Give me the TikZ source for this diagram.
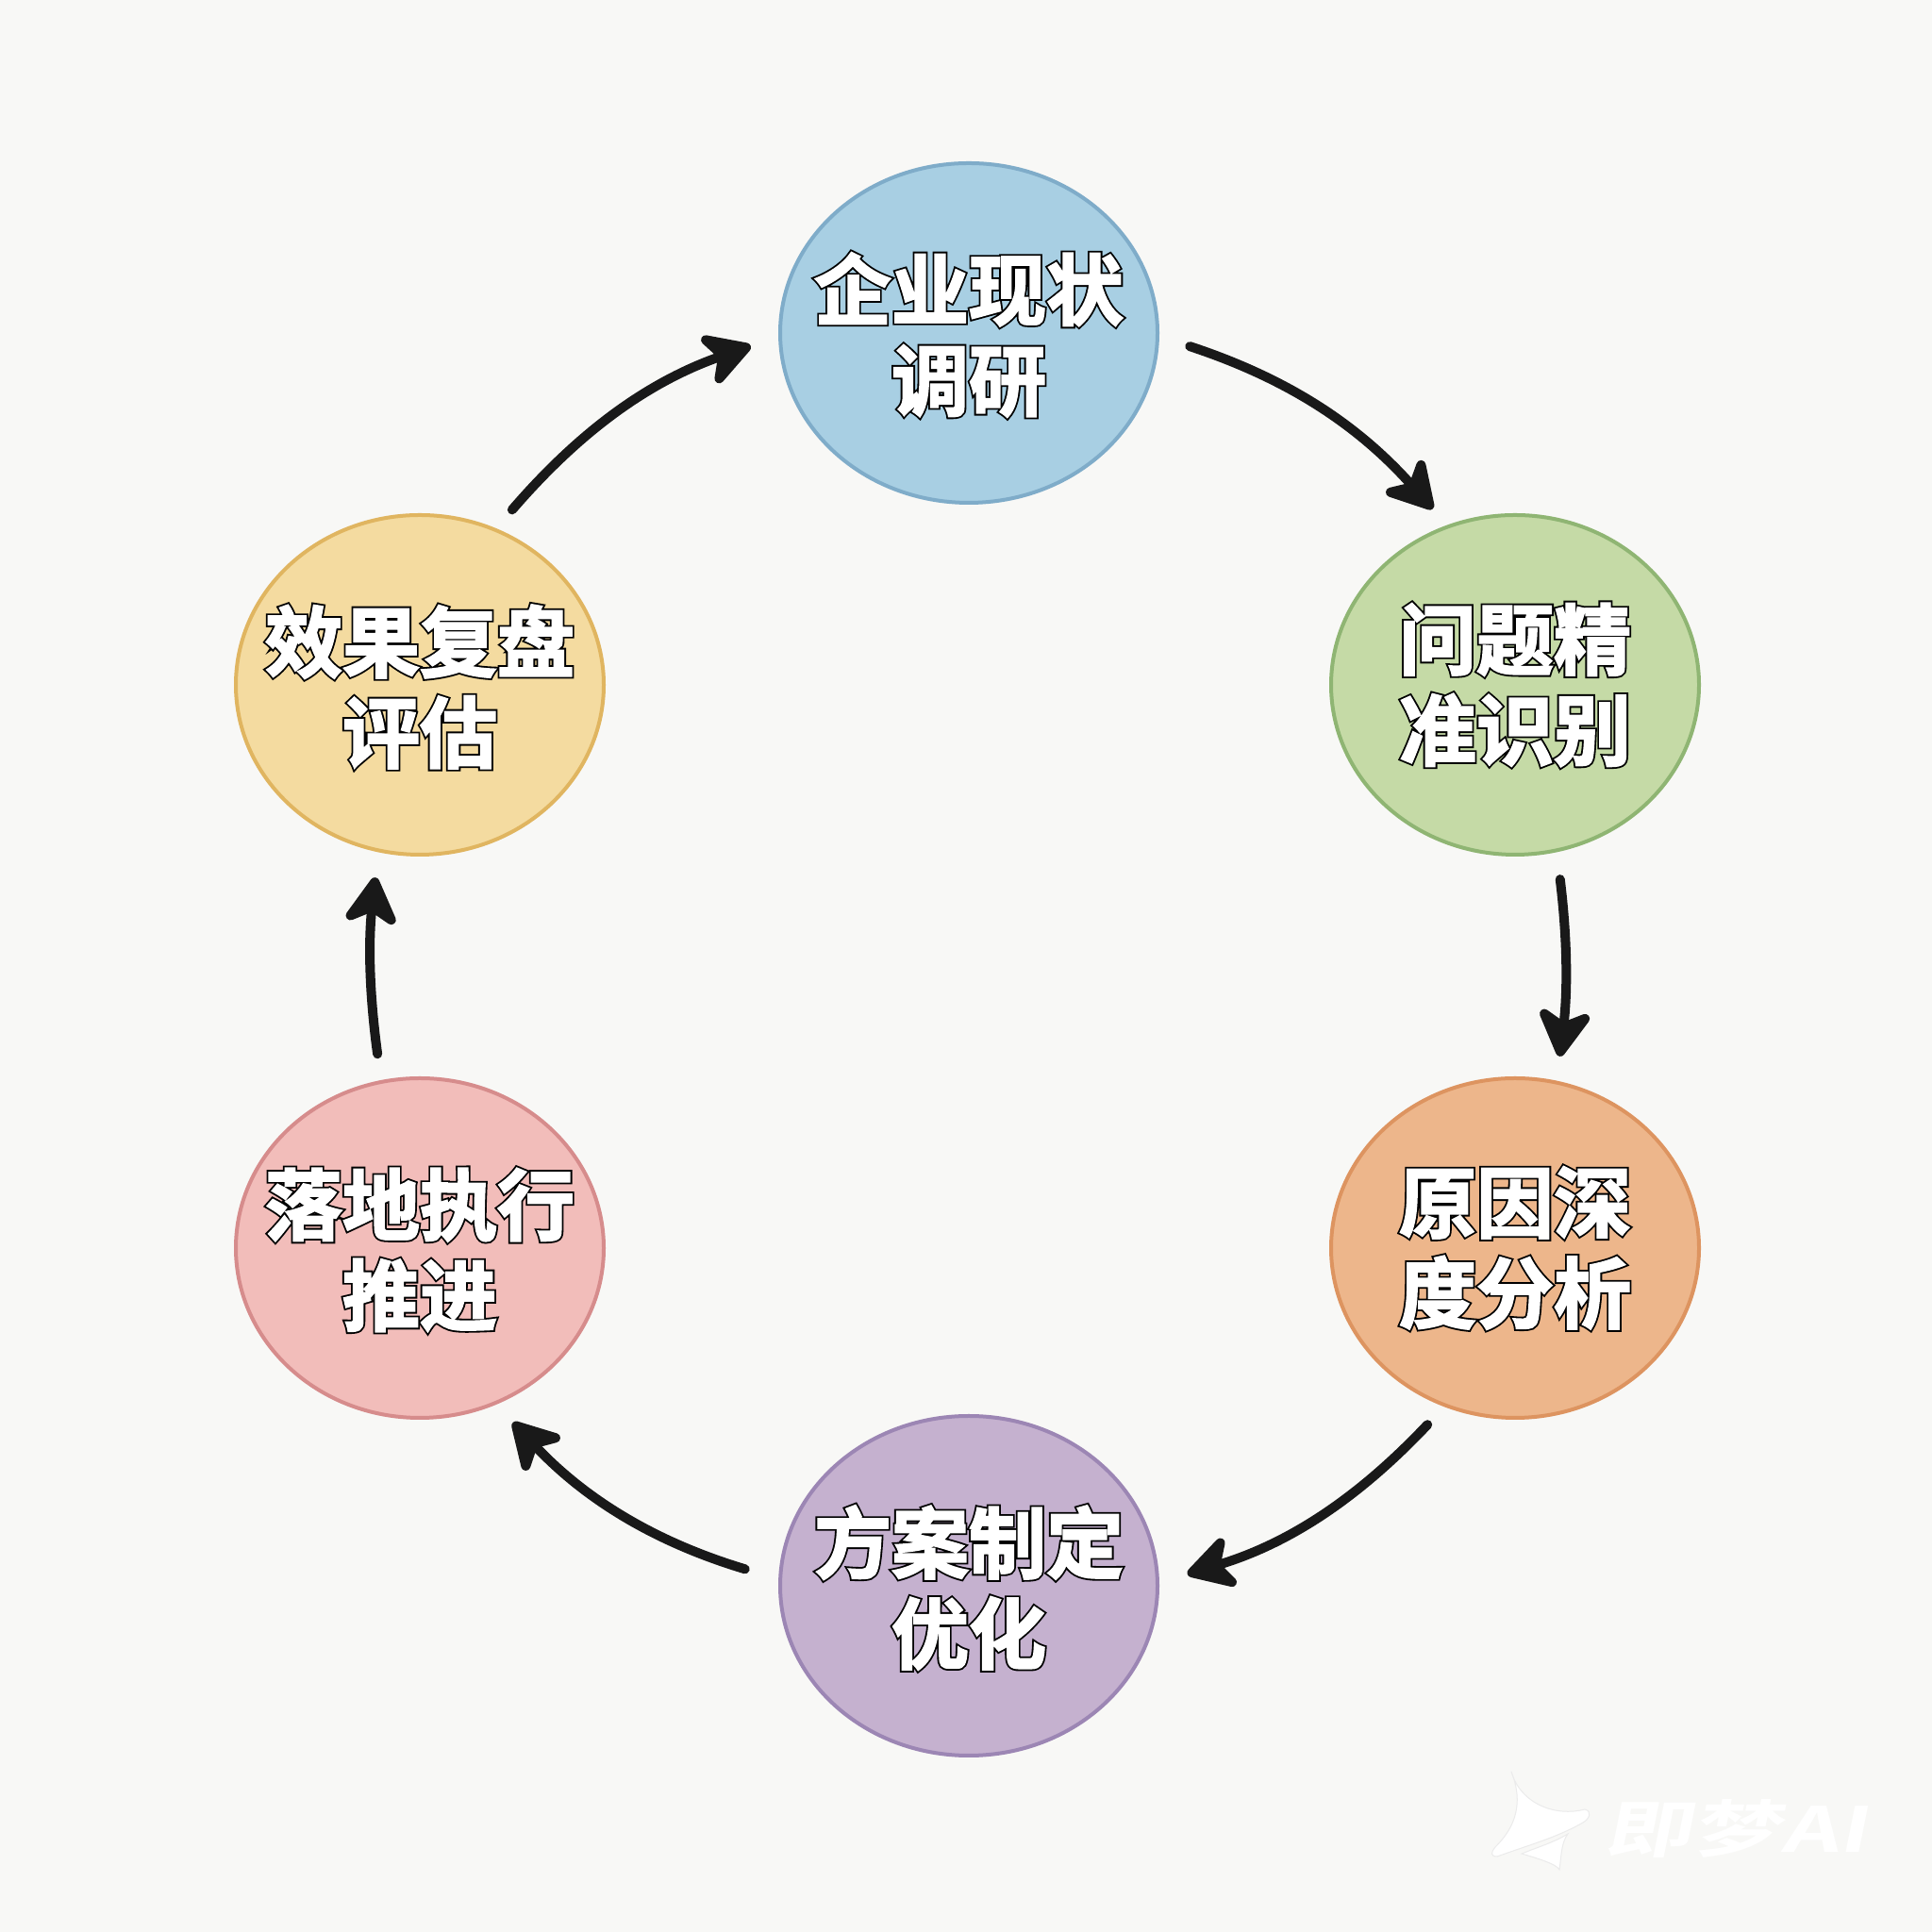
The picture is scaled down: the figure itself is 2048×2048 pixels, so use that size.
\documentclass[tikz,border=0pt]{standalone}
\usepackage{fontspec}
\usetikzlibrary{shapes.geometric,arrows.meta}
\newfontfamily\olfont[UprightFont=* Bold,UprightFeatures={FakeBold=2.5}]{Noto Sans CJK SC}
\newfontfamily\olbackfont[UprightFont=* Bold,UprightFeatures={FakeBold=7}]{Noto Sans CJK SC}
\newfontfamily\wmfont[UprightFont=* Bold]{Noto Sans CJK SC}
\definecolor{bgc}{HTML}{F8F8F6}
\definecolor{blueF}{HTML}{A8CFE3}\definecolor{blueD}{HTML}{7FACC9}
\definecolor{greenF}{HTML}{C5DAA6}\definecolor{greenD}{HTML}{8FB573}
\definecolor{orangeF}{HTML}{EDB68B}\definecolor{orangeD}{HTML}{DD9460}
\definecolor{purpleF}{HTML}{C5B1CF}\definecolor{purpleD}{HTML}{9C86B4}
\definecolor{pinkF}{HTML}{F2BDBA}\definecolor{pinkD}{HTML}{D68C8C}
\definecolor{yellowF}{HTML}{F4DBA0}\definecolor{yellowD}{HTML}{E0B560}
\tikzset{
 x=0.5pt,y=0.5pt,
 blob/.style={ellipse,minimum width=#1,minimum height=180pt,inner sep=0pt,line width=2pt},
 captiontext/.style={inner sep=0pt,align=center,text=white,font=\olfont\fontsize{41}{48}\selectfont},
 captionback/.style={inner sep=0pt,align=center,text=black,font=\olbackfont\fontsize{41}{48}\selectfont},
 flow/.style={line width=5pt,line cap=round,color=black!90,-{Stealth[length=30pt,width=34pt,inset=9pt,round]}},
 wmark/.style={fill=white,draw=black!8,line width=0.5pt},
}
\newcommand{\outlined}[3]{%
  \node[captionback] (#1back) at (#2) {#3};
  \node[captiontext] (#1) at (#2) {#3};}
\begin{document}
\begin{tikzpicture}
\useasboundingbox (0,0) rectangle (2048,2048);
\fill[bgc] (0,0) rectangle (2048,2048);
% circles
\node[blob=200pt,draw=blueD,fill=blueF] (a) at (1027,1695) {};
\node[blob=195pt,draw=greenD,fill=greenF] (b) at (1606,1322) {};
\node[blob=195pt,draw=orangeD,fill=orangeF] (c) at (1606,725) {};
\node[blob=200pt,draw=purpleD,fill=purpleF] (d) at (1027,367) {};
\node[blob=195pt,draw=pinkD,fill=pinkF] (e) at (445,725) {};
\node[blob=195pt,draw=yellowD,fill=yellowF] (f) at (445,1322) {};
% captions
\outlined{ta}{1027,1693}{企业现状\\调研}
\outlined{tb}{1606,1322}{问题精\\准识别}
\outlined{tc}{1606,725}{原因深\\度分析}
\outlined{td}{1027,365}{方案制定\\优化}
\outlined{te}{445,723}{落地执行\\推进}
\outlined{tf}{445,1320}{效果复盘\\评估}
% arrows
\draw[flow,shorten <=17pt,shorten >=11.5pt] (a.-1) to[bend left=15] (b.113);
\draw[flow,shorten <=14.5pt,shorten >=13pt] (b.-76.6) to[bend left=7] (c.76);
\draw[flow,shorten <=13pt,shorten >=15.5pt] (c.-114) to[bend left=15] (d.1);
\draw[flow,shorten <=18.5pt,shorten >=13pt] (d.178) to[bend left=15] (e.-64);
\draw[flow,shorten <=14pt,shorten >=13.5pt] (e.103.5) to[bend left=7] (f.-104.5);
\draw[flow,shorten <=13pt,shorten >=15.5pt] (f.64.5) to[bend left=15] (a.181);
% watermark
\path[wmark] (1602,170) .. controls (1612,135) and (1650,122) .. (1680,130)
  .. controls (1688,128) and (1685,120) .. (1678,116) .. controls (1650,100) and (1620,92) .. (1587,80)
  .. controls (1580,80) and (1580,84) .. (1585,90) .. controls (1600,105) and (1618,130) .. (1602,170) -- cycle;
\path[wmark] (1613,83) .. controls (1630,78) and (1650,72) .. (1653,66) .. controls (1655,80) and (1655,95) .. (1662,104)
  .. controls (1645,94) and (1630,90) .. (1613,83) -- cycle;
\node[inner sep=0pt,anchor=west,text=white,font=\wmfont\fontsize{33}{33}\selectfont,xslant=0.2,xscale=1.42] (w) at (1705,110) {即梦AI};
\end{tikzpicture}
\end{document}
